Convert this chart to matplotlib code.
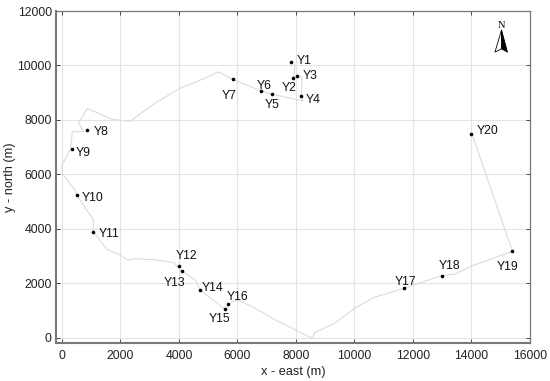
import matplotlib
matplotlib.use("Agg")
import matplotlib.pyplot as plt

plt.rcParams['font.family'] = ['Liberation Sans', 'DejaVu Sans']

path_x = [7960, 7950, 7910, 8045, 8210, 8180, 8240, 7180, 6800, 5830, 5354, 4612, 4041, 3242, 2785, 2329, 1700, 868,
          570, 730, 354, 297, 0, 10, 445, 514, 1073, 1073, 1530, 1986, 2250, 2443, 3128, 3813, 4098, 4555, 4726,
          5580, 5810, 6040, 6550, 7295, 8470, 8560, 8640, 9325, 10010, 10640, 11690, 12980, 13435, 14000,
          15400, 14050, 14000]
path_y = [10060, 9770, 9550, 9620, 9560, 8875, 8700, 8950, 9070, 9490, 9770, 9405, 9170, 8655, 8310, 7950, 8030, 8425,
          7900, 7570, 7570, 6950, 6340, 6040, 5425, 5235, 4330, 3900, 3255, 3045, 2850, 2910, 2875, 2777, 2460,
          2130, 1760, 1050, 1330, 1380, 1125, 660, 35, 10, 195, 540, 1090, 1480, 1820, 2290, 2340, 2640,
          3180, 7380, 7490]

site_names = ['Y1', 'Y2', 'Y3', 'Y4', 'Y5', 'Y6', 'Y7', 'Y8', 'Y9', 'Y10', 'Y11', 'Y12', 'Y13', 'Y14', 'Y15',
              'Y16', 'Y17', 'Y18', 'Y19', 'Y20']
site_x = [7840, 7910, 8045, 8180, 7180, 6800, 5830, 850, 335, 514, 1060, 4000, 4100, 4726, 5580, 5680, 11690,
          12980, 15400, 14000]
site_y = [10120, 9550, 9620, 8875, 8950, 9070, 9490, 7640, 6950, 5235, 3900, 2640, 2460, 1760, 1050, 1240, 1820,
          2290, 3180, 7490]
label_x = [8270, 7770, 8470, 8580, 7200, 6910, 5730, 1330, 710, 1040, 1610, 4270, 3860, 5130, 5400, 6000, 11730,
           13260, 15230, 14550]
label_y = [10170, 9190, 9600, 8740, 8540, 9240, 8890, 7550, 6790, 5140, 3830, 2990, 2020, 1850, 690, 1510, 2070,
           2630, 2620, 7590]

x_ticks = list(range(0, 16001, 2000))
y_ticks = list(range(0, 12001, 2000))

fig = plt.figure(figsize=(5.5, 3.81), dpi=100)
ax = fig.add_axes([56 / 550, 1 - 343 / 381, 474 / 550, 332 / 381])
ax.set_xlim(-205, 16000)
ax.set_ylim(-185, 12000)
ax.set_xticks(x_ticks)
ax.set_yticks(y_ticks)
ax.grid(True, color='#e4e4e4', lw=0.8)
ax.set_axisbelow(True)
ax.tick_params(direction='in', length=3, width=0.7, color='#444444', labelsize=8.8, labelcolor='#222222', pad=3,
               top=True, right=True)
ax.tick_params(axis='x', pad=5)
for side, spine in ax.spines.items():
    spine.set_color('#777777')
    spine.set_linewidth(1.5 if side in ('left', 'bottom') else 0.9)

ax.plot(path_x, path_y, color='#dcd9d2', lw=0.75, zorder=2)
ax.plot(site_x, site_y, ls='none', marker='o', ms=2.6, color='black', mew=0, zorder=3)
for name, lx, ly in zip(site_names, label_x, label_y):
    ax.text(lx, ly, name, fontsize=8.8, color='#111111', ha='center', va='center')

ax.set_xlabel('x - east (m)', fontsize=9.2, color='#222222', labelpad=3)
ax.set_ylabel('y - north (m)', fontsize=9.2, color='#222222', labelpad=1)

ta = ax.transAxes
ax.fill([0.940, 0.926, 0.940], [0.943, 0.876, 0.886], facecolor='white', edgecolor='black', lw=0.6, transform=ta,
        zorder=4)
ax.fill([0.940, 0.9525, 0.940], [0.943, 0.876, 0.886], facecolor='black', edgecolor='black', lw=0.6, transform=ta,
        zorder=4)
ax.text(0.940, 0.956, 'N', family='Liberation Serif', fontsize=7.5, ha='center', va='center', transform=ta)

fig.savefig('out.png', dpi=100)
